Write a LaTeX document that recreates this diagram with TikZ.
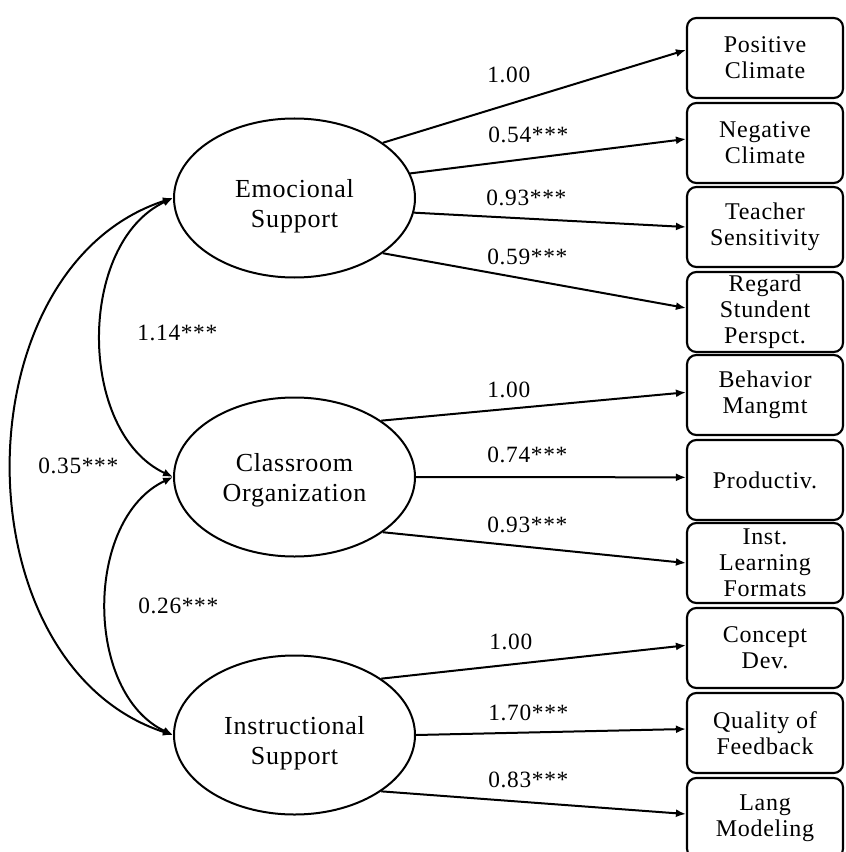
\documentclass[tikz,border=0pt]{standalone}
\usepackage{fontspec}
\setmainfont{Liberation Serif}[LetterSpace=3.0]
\usetikzlibrary{arrows.meta,shapes.geometric}
\tikzset{
  latent/.style={ellipse,draw,line width=1.5pt,minimum width=180.75pt,minimum height=119.25pt,inner sep=0pt},
  lattext/.style={align=center,font=\fontsize{19.5pt}{22.5pt}\selectfont,inner sep=0pt},
  obs/.style={draw,line width=1.6pt,rounded corners=7pt,minimum width=117pt,minimum height=60pt,inner sep=0pt,align=center,font=\fontsize{18pt}{19.5pt}\selectfont},
  load/.style={line width=1.5pt,-{Latex[length=7.5pt,width=6pt]}},
  cov/.style={line width=1.5pt,{Latex[length=7.5pt,width=6pt]}-{Latex[length=7.5pt,width=6pt]}},
  est/.style={anchor=base west,inner sep=0pt,font=\fontsize{17.5pt}{19.5pt}\selectfont}
}
\begin{document}
\begin{tikzpicture}[x=0.75pt,y=-0.75pt]
\useasboundingbox (0,0) rectangle (845,852);
% latent variables
\node[latent] (E) at (294.5,198) {};
\node[latent] (C) at (294.5,477) {};
\node[latent] (I) at (294.5,735) {};
\node[lattext,yshift=-6pt] (Et) at (E) {Emocional\\Support};
\node[lattext,yshift=-2.5pt] (Ct) at (C) {Classroom\\Organization};
\node[lattext,yshift=-6pt] (It) at (I) {Instructional\\Support};
% observed indicators
\node[obs] (B1) at (765,58) {Positive\\Climate};
\node[obs] (B2) at (765,143) {Negative\\Climate};
\node[obs] (B3) at (765,227) {Teacher\\Sensitivity};
\node[obs] (B4) at (765,312) {Regard\\Stundent\\Perspct.};
\node[obs] (B5) at (765,395) {Behavior\\Mangmt};
\node[obs] (B6) at (765,480) {Productiv.};
\node[obs] (B7) at (765,563) {Inst.\\Learning\\Formats};
\node[obs] (B8) at (765,648) {Concept\\Dev.};
\node[obs] (B9) at (765,733) {Quality of\\Feedback};
\node[obs] (B10) at (765,818) {Lang\\Modeling};
% loadings
\draw[load] (E.32.5) -- ([yshift=6pt]B1.west);
\draw[load] (E.12.6) -- ([yshift=3pt]B2.west);
\draw[load] (E.-7.2) -- (B3.west);
\draw[load] (E.-32.5) -- ([yshift=3pt]B4.west);
\draw[load] (C.33) -- ([yshift=2pt]B5.west);
\draw[load] (C.0) -- ([yshift=2pt]B6.west);
\draw[load] (C.-32.6) -- (B7.west);
\draw[load] (I.33.5) -- ([yshift=2pt]B8.west);
\draw[load] (I.0) -- ([yshift=3pt]B9.west);
\draw[load] (I.-33) -- ([yshift=3pt]B10.west);
% covariances
\draw[cov] (E.west) .. controls +(-215,70) and +(-215,-70) .. (I.west);
\draw[cov] (E.west) .. controls +(-96,45) and +(-96,-45) .. (C.west);
\draw[cov] (C.west) .. controls +(-89,42) and +(-89,-42) .. (I.west);
% estimates
\node[est] (l1) at (487,83) {1.00};
\node[est] (l2) at (488,143) {0.54***};
\node[est] (l3) at (486,205) {0.93***};
\node[est] (l4) at (487,264) {0.59***};
\node[est] (l5) at (487,397) {1.00};
\node[est] (l6) at (487,462) {0.74***};
\node[est] (l7) at (487,532) {0.93***};
\node[est] (l8) at (489,649) {1.00};
\node[est] (l9) at (488,720) {1.70***};
\node[est] (l10) at (488,787) {0.83***};
\node[est] (c1) at (137,340) {1.14***};
\node[est] (c2) at (38,473) {0.35***};
\node[est] (c3) at (138,613) {0.26***};
\end{tikzpicture}
\end{document}
